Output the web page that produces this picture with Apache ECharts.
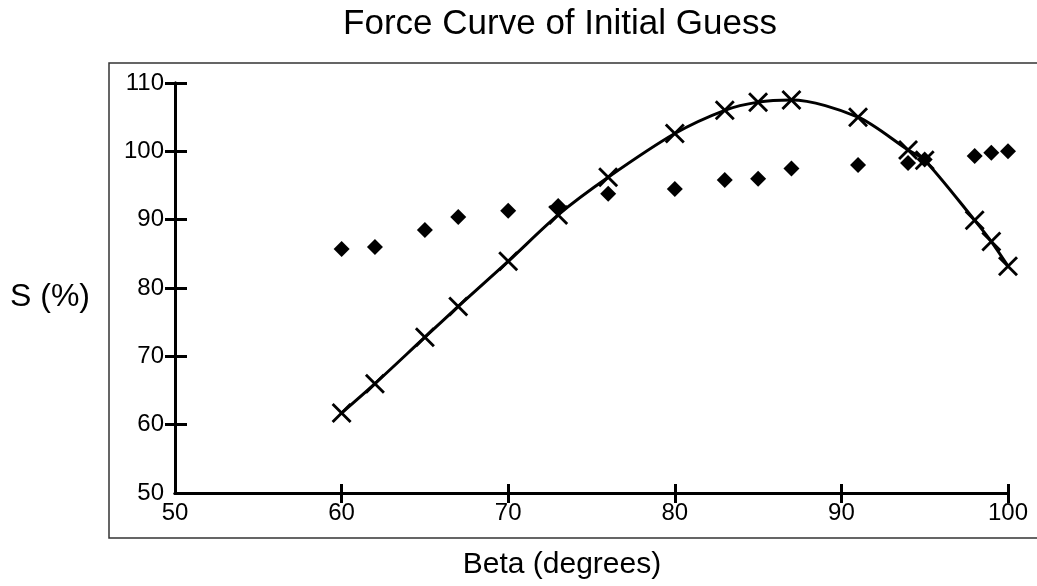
<!DOCTYPE html>
<html lang="en">

<head>
    <meta charset="utf-8">
    <title>Force Curve of Initial Guess</title>
    <!-- ECharts library -->
    <script src="https://cdn.jsdelivr.net/npm/echarts@6.0.0/dist/echarts.min.js"></script>
    <style>
        html, body { margin: 0; padding: 0; background: #fff; }
    </style>
</head>

<body>
<!-- chart container -->
<div id="force-chart" style="width: 1037px; height: 586px;"></div>
<script>
    // Beta (degrees) of each point
    var beta = [60, 62, 65, 67, 70, 73, 76, 80, 83, 85, 87, 91, 94, 95, 98, 99, 100];
    // S (%) of the initial guess curve (crosses)
    var sGuess = [61.7, 66.0, 72.8, 77.3, 83.9, 90.7, 96.2, 102.6, 106.0, 107.2, 107.5, 105.0, 100.2, 98.7, 89.9, 86.8, 83.2];
    // S (%) of the diamonds
    var sPoints = [85.7, 86.0, 88.5, 90.4, 91.3, 92.0, 93.8, 94.5, 95.8, 96.0, 97.5, 98.0, 98.3, 98.8, 99.3, 99.8, 100.0];
    // tick marks (outer half)
    var xTicks = [60, 70, 80, 90, 100];
    var yTicks = [60, 70, 80, 90, 100, 110];

    var font = '"Liberation Sans", Arial, sans-serif';
    // cross symbol drawn as a filled X
    var cross = 'path://M0,2 L2,0 L10,8 L18,0 L20,2 L12,10 L20,18 L18,20 L10,12 L2,20 L0,18 L8,10 Z';

    var chart = echarts.init(document.getElementById('force-chart'));
    var option = {
        backgroundColor: '#fff',
        animation: false,
        // two identical grids: the second one carries the inner half of the ticks
        grid: [
            {left: 175, right: 29, top: 83, bottom: 93},
            {left: 175, right: 29, top: 83, bottom: 93}
        ],
        graphic: [
            {
                type: 'rect', z: -1,
                shape: {x: 109, y: 63, width: 1000, height: 475},
                style: {fill: 'none', stroke: '#333', lineWidth: 1.5}
            },
            {
                type: 'text', x: 560, y: 24,
                style: {text: 'Force Curve of Initial Guess', font: '35px ' + font, fill: '#000',
                        textAlign: 'center', textVerticalAlign: 'middle'}
            },
            {
                type: 'text', x: 562, y: 565,
                style: {text: 'Beta (degrees)', font: '30px ' + font, fill: '#000',
                        textAlign: 'center', textVerticalAlign: 'middle'}
            },
            {
                type: 'text', x: 50, y: 297,
                style: {text: 'S (%)', font: '32px ' + font, fill: '#000',
                        textAlign: 'center', textVerticalAlign: 'middle'}
            }
        ],
        xAxis: [
            {
                type: 'value', gridIndex: 0, min: 50, max: 100, interval: 10,
                axisLine: {lineStyle: {color: '#000', width: 3}},
                axisTick: {customValues: xTicks, length: 10, lineStyle: {color: '#000', width: 3}},
                axisLabel: {color: '#000', fontSize: 24, fontFamily: font, margin: 8},
                splitLine: {show: false}
            },
            {
                type: 'value', gridIndex: 1, min: 50, max: 100, interval: 10,
                axisLine: {show: true, lineStyle: {color: '#000', width: 3}},
                axisTick: {show: true, inside: true, length: 9, lineStyle: {color: '#000', width: 3}},
                axisLabel: {show: true, color: 'rgba(0,0,0,0)'},
                splitLine: {show: false}
            }
        ],
        yAxis: [
            {
                type: 'value', gridIndex: 0, min: 50, max: 110, interval: 10,
                axisLine: {show: true, lineStyle: {color: '#000', width: 3}},
                axisTick: {show: true, customValues: yTicks, length: 10, lineStyle: {color: '#000', width: 3}},
                axisLabel: {color: '#000', fontSize: 24, fontFamily: font, margin: 11},
                splitLine: {show: false}
            },
            {
                type: 'value', gridIndex: 1, min: 50, max: 110, interval: 10,
                axisLine: {show: true, lineStyle: {color: '#000', width: 3}},
                axisTick: {show: true, inside: true, length: 12, lineStyle: {color: '#000', width: 3}},
                axisLabel: {show: true, color: 'rgba(0,0,0,0)'},
                splitLine: {show: false}
            }
        ],
        series: [
            {
                name: 'measured',
                type: 'scatter',
                xAxisIndex: 1,
                yAxisIndex: 1,
                symbol: 'diamond',
                symbolSize: 16,
                itemStyle: {color: '#000', opacity: 1},
                data: beta.map((b, i) => [b, sPoints[i]])
            },
            {
                name: 'initial guess',
                type: 'line',
                xAxisIndex: 0,
                yAxisIndex: 0,
                smooth: 0.3,
                clip: false,
                symbol: cross,
                symbolSize: 20,
                showAllSymbol: true,
                itemStyle: {color: '#000', opacity: 1},
                lineStyle: {color: '#000', width: 3},
                data: beta.map((b, i) => [b, sGuess[i]])
            }
        ]
    };
    chart.setOption(option);
</script>
</body>

</html>
